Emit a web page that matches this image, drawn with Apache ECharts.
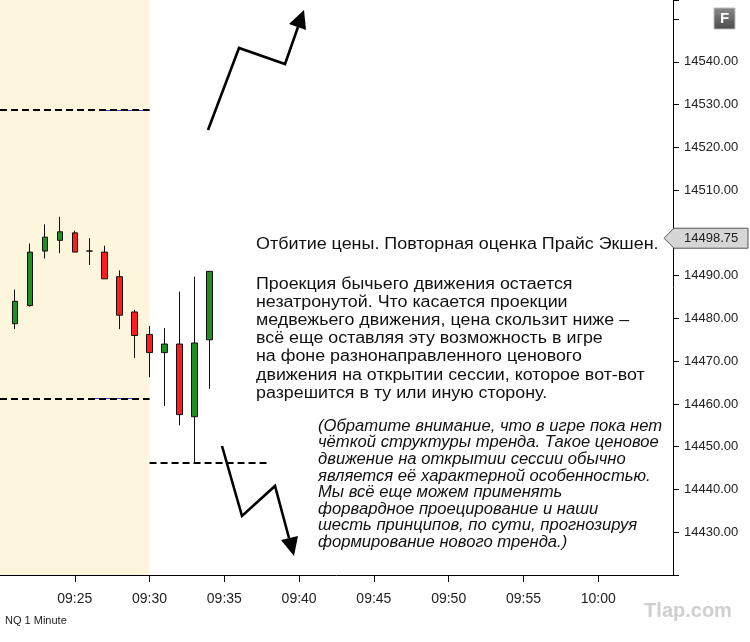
<!DOCTYPE html>
<html>
<head>
<meta charset="utf-8">
<script src="https://cdn.jsdelivr.net/npm/echarts@6/dist/echarts.min.js"></script>
<style>
  html, body { margin: 0; padding: 0; background: #fff; }
  #chart { width: 750px; height: 642px; }
</style>
</head>
<body>
<div id="chart"></div>
<script>
  const categories = [
    "09:20", "09:21", "09:22", "09:23", "09:24", "09:25", "09:26", "09:27", "09:28", "09:29",
    "09:30", "09:31", "09:32", "09:33", "09:34", "09:35", "09:36", "09:37", "09:38", "09:39",
    "09:40", "09:41", "09:42", "09:43", "09:44", "09:45", "09:46", "09:47", "09:48", "09:49",
    "09:50", "09:51", "09:52", "09:53", "09:54", "09:55", "09:56", "09:57", "09:58", "09:59",
    "10:00", "10:01", "10:02", "10:03", "10:04", "10:05"
  ];

  // NQ 1 minute bars
  const candleTimes = ["09:21", "09:22", "09:23", "09:24", "09:25", "09:26", "09:27",
    "09:28", "09:29", "09:30", "09:31", "09:32", "09:33", "09:34"];
  const opens = [14478.75, 14483.0, 14495.75, 14498.25, 14500.0, 14495.75, 14495.5,
    14489.75, 14481.5, 14476.25, 14472.0, 14474.0, 14457.0, 14475.0];
  const closes = [14484.0, 14495.5, 14499.0, 14500.25, 14495.5, 14495.75, 14489.25,
    14480.75, 14476.0, 14472.0, 14474.0, 14457.5, 14474.25, 14491.0];
  const lows = [14477.5, 14482.75, 14494.0, 14495.25, 14495.5, 14492.5, 14489.25,
    14477.5, 14470.75, 14466.25, 14459.5, 14455.0, 14446.25, 14463.5];
  const highs = [14486.75, 14497.5, 14502.0, 14503.75, 14500.5, 14498.75, 14497.0,
    14491.25, 14482.0, 14478.25, 14477.75, 14486.25, 14489.75, 14491.0];

  const lastPrice = 14498.75;
  const sessionShade = ["09:20", "09:30"];
  // [from, to, price] of the dashed levels
  const dashedLevels = [
    ["09:20", "09:30", 14528.75],
    ["09:20", "09:30", 14461.25],
    ["09:30", "09:38", 14446.25]
  ];
  const blueLevels = [
    ["09:27", "09:30", 14528.75],
    ["09:26", "09:29", 14461.25]
  ];

  const yMin = 14420;
  const yMax = 14554.45;
  const hiddenYLabels = [14420, 14500, 14550];

  const mainTitle = "Отбитие цены. Повторная оценка Прайс Экшен.";
  const mainText = [
    "Проекция бычьего движения остается",
    "незатронутой. Что касается проекции",
    "медвежьего движения, цена скользит ниже –",
    "всё еще оставляя эту возможность в игре",
    "на фоне разнонаправленного ценового",
    "движения на открытии сессии, которое вот-вот",
    "разрешится в ту или иную сторону."
  ];
  const noteText = [
    "(Обратите внимание, что в игре пока нет",
    "чёткой структуры тренда. Такое ценовое",
    "движение на открытии сессии обычно",
    "является её характерной особенностью.",
    "Мы всё еще можем применять",
    "форвардное проецирование и наши",
    "шесть принципов, по сути, прогнозируя",
    "формирование нового тренда.)"
  ];

  const candleData = categories.map((t) => {
    const i = candleTimes.indexOf(t);
    if (i < 0) {
      return "-";
    }
    return [opens[i], closes[i], lows[i], highs[i]];
  });

  function isLabelTime(t) {
    const minute = parseInt(t.slice(3), 10);
    return minute % 5 === 0 && t !== "09:20" && t !== "10:05";
  }

  const lineData = [];
  blueLevels.forEach(([from, to, price]) => {
    lineData.push([
      { coord: [from, price], lineStyle: { color: "#3b3bd6", width: 1, type: "solid" } },
      { coord: [to, price] }
    ]);
  });
  dashedLevels.forEach(([from, to, price]) => {
    lineData.push([
      { coord: [from, price], lineStyle: { color: "#000", width: 2, type: [7, 4] } },
      { coord: [to, price] }
    ]);
  });

  const chart = echarts.init(document.getElementById("chart"), null, { renderer: "canvas" });

  const option = {
    animation: false,
    backgroundColor: "#fff",
    grid: { left: 0, right: 77, top: 0, bottom: 67 },
    xAxis: {
      type: "category",
      data: categories,
      boundaryGap: false,
      axisLine: { lineStyle: { color: "#000", width: 1 } },
      axisTick: {
        length: 7,
        lineStyle: { color: "#000" },
        interval: (index, value) => isLabelTime(value)
      },
      axisLabel: {
        interval: (index, value) => isLabelTime(value),
        margin: 17,
        color: "#222",
        fontSize: 14,
        fontFamily: "'Liberation Sans', Arial, sans-serif"
      },
      splitLine: { show: false }
    },
    yAxis: {
      type: "value",
      position: "right",
      min: yMin,
      max: yMax,
      interval: 10,
      scale: true,
      axisLine: { show: true, lineStyle: { color: "#000", width: 1 } },
      axisTick: { show: true, length: 6, lineStyle: { color: "#000" } },
      axisLabel: {
        margin: 11,
        color: "#222",
        fontSize: 13,
        fontFamily: "'Liberation Sans', Arial, sans-serif",
        formatter: (v) => {
          if (Math.abs(v % 10) > 0.001 || hiddenYLabels.includes(v)) {
            return "";
          }
          return v.toFixed(2);
        }
      },
      splitLine: { show: false }
    },
    series: [
      {
        type: "candlestick",
        data: candleData,
        barWidth: 6,
        itemStyle: {
          color: "#1f8f1f",
          color0: "#ff1c1c",
          borderColor: "#111",
          borderColor0: "#111",
          borderWidth: 1
        },
        markArea: {
          silent: true,
          itemStyle: { color: "#fdf6dc" },
          data: [[{ xAxis: sessionShade[0] }, { xAxis: sessionShade[1] }]]
        },
        markLine: {
          silent: true,
          symbol: "none",
          label: { show: false },
          data: lineData
        }
      }
    ]
  };

  chart.setOption(option);

  const tagY = chart.convertToPixel({ yAxisIndex: 0 }, lastPrice);
  const axisX = 673;
  const textFont = "16px 'Liberation Sans', Arial, sans-serif";

  chart.setOption({
    graphic: [
      // up arrow
      {
        type: "polyline",
        shape: { points: [[208, 130], [239, 48], [285, 64], [298, 27]] },
        style: { stroke: "#000", lineWidth: 2.6, fill: null },
        z: 100
      },
      {
        type: "polygon",
        shape: { points: [[304, 10], [289, 24], [306, 30]] },
        style: { fill: "#000" },
        z: 100
      },
      // down arrow
      {
        type: "polyline",
        shape: { points: [[222, 446], [242, 516], [275, 486], [289, 538]] },
        style: { stroke: "#000", lineWidth: 2.6, fill: null },
        z: 100
      },
      {
        type: "polygon",
        shape: { points: [[294, 556], [281, 540], [298, 536]] },
        style: { fill: "#000" },
        z: 100
      },
      // last price tag on the axis
      {
        type: "polygon",
        shape: {
          points: [
            [axisX - 9, tagY], [axisX + 1, tagY - 10], [748, tagY - 10],
            [748, tagY + 10], [axisX + 1, tagY + 10]
          ]
        },
        style: { fill: "#d6d6d6", stroke: "#555", lineWidth: 1 },
        z: 100
      },
      {
        type: "text",
        x: 684,
        y: tagY,
        style: {
          text: "14498.75",
          font: "13px 'Liberation Sans', Arial, sans-serif",
          fill: "#222",
          verticalAlign: "middle"
        },
        z: 101
      },
      // F button
      {
        type: "rect",
        shape: { x: 714, y: 8, width: 21, height: 21 },
        style: {
          fill: new echarts.graphic.LinearGradient(0, 0, 0, 1, [
            { offset: 0, color: "#8a8a8a" },
            { offset: 1, color: "#4a4a4a" }
          ]),
          stroke: "#bbb",
          lineWidth: 1
        },
        z: 100
      },
      {
        type: "text",
        x: 724.5,
        y: 18.5,
        style: {
          text: "F",
          font: "bold 15px 'Liberation Sans', Arial, sans-serif",
          fill: "#fff",
          align: "center",
          verticalAlign: "middle"
        },
        z: 101
      },
      // annotation texts (the source picture is stretched sideways)
      {
        type: "text",
        x: 256,
        y: 236,
        scaleX: 1.12,
        style: {
          text: mainTitle,
          font: textFont,
          fill: "#111",
          lineHeight: 18,
          verticalAlign: "top"
        },
        z: 90
      },
      {
        type: "text",
        x: 256,
        y: 275,
        scaleX: 1.115,
        style: {
          text: mainText.join("\n"),
          font: textFont,
          fill: "#111",
          lineHeight: 18.2,
          verticalAlign: "top"
        },
        z: 90
      },
      {
        type: "text",
        x: 318,
        y: 418,
        scaleX: 1.04,
        style: {
          text: noteText.join("\n"),
          font: "italic " + textFont,
          fill: "#111",
          lineHeight: 16.6,
          verticalAlign: "top"
        },
        z: 90
      },
      {
        type: "text",
        x: 5,
        y: 621,
        style: {
          text: "NQ 1 Minute",
          font: "11px 'Liberation Sans', Arial, sans-serif",
          fill: "#222",
          verticalAlign: "middle"
        },
        z: 90
      },
      {
        type: "text",
        x: 688,
        y: 611,
        style: {
          text: "Tlap.com",
          font: "bold 20px 'Liberation Sans', Arial, sans-serif",
          fill: "#cfcfcf",
          align: "center",
          verticalAlign: "middle"
        },
        z: 90
      }
    ]
  });

  window.addEventListener("resize", () => {
    chart.resize();
  });
</script>
</body>
</html>
